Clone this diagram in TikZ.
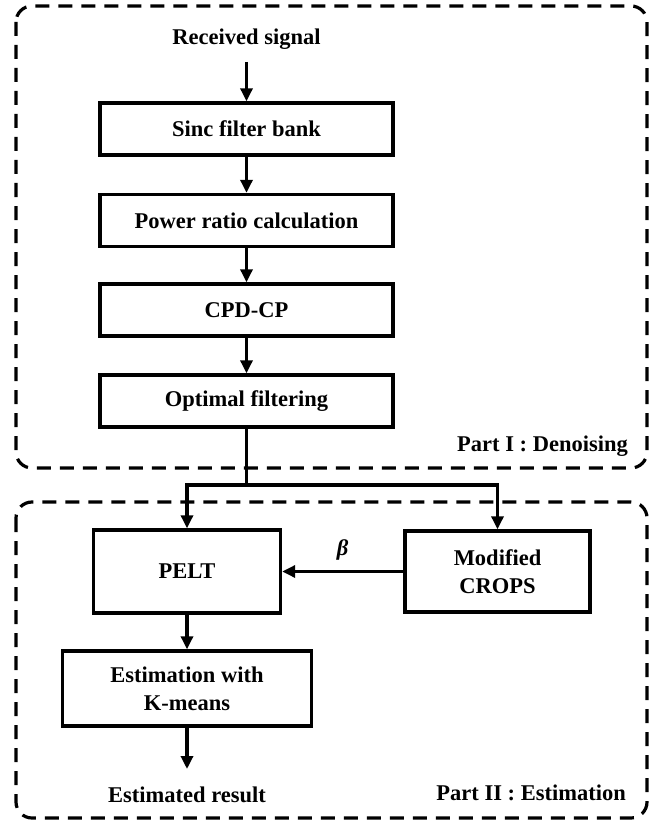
\documentclass[tikz,border=0pt]{standalone}
\usepackage{fontspec}
\setmainfont{Liberation Serif}
\usetikzlibrary{arrows.meta}
\begin{document}
\begin{tikzpicture}[x=1pt,y=-1pt,
  blk/.style={draw, line width=3.4pt, inner sep=0pt, align=center,
    font=\fontsize{22.5}{28}\selectfont\bfseries},
  lbl/.style={font=\fontsize{22.5}{28}\selectfont\bfseries, inner sep=0pt},
  arr/.style={line width=3.2pt, -{Triangle[length=13pt,width=12pt]}},
  ln/.style={line width=3.2pt},
  part/.style={draw, line width=3.2pt, dash pattern=on 14pt off 9pt, rounded corners=16pt}]
\useasboundingbox (0,0) rectangle (657,821);
% dashed group boxes
\draw[part] (16,6) rectangle (647,468);
\draw[part] (16,502) rectangle (647,818);
% Part I
\node[lbl] (rx) at (246.5,39) {Received signal};
\coordinate (rxo) at (246.5,62);
\node[blk, minimum width=293pt, minimum height=52pt] (sinc) at (246.5,129) {Sinc filter bank};
\node[blk, minimum width=293pt, minimum height=52pt] (pow) at (246.5,220.5) {Power ratio calculation};
\node[blk, minimum width=293pt, minimum height=52pt] (cpd) at (246.5,310) {CPD-CP};
\node[blk, minimum width=293pt, minimum height=52pt] (opt) at (246.5,401) {Optimal filtering};
\draw[arr] (rxo) -- (sinc.north);
\draw[arr] (sinc.south) -- (pow.north);
\draw[arr] (pow.south) -- (cpd.north);
\draw[arr] (cpd.south) -- (opt.north);
\node[lbl, anchor=east] (p1) at (628,446) {Part I : Denoising};
% Part II
\node[blk, minimum width=187pt, minimum height=83pt] (pelt) at (187,571.5) {PELT};
\node[blk, minimum width=185pt, minimum height=81pt] (crops) at (497.5,571.5) {Modified\\CROPS};
\node[blk, minimum width=249pt, minimum height=75pt] (est) at (187,688.5) {Estimation with\\K-means};
\coordinate (br) at (246.5,485);
\draw[ln] (opt.south) -- (br);
\draw[arr] (br) -| (pelt.north);
\draw[arr] (br) -| (crops.north);
\draw[arr] (crops.west) -- (pelt.east)
  node[lbl, pos=0.5, yshift=22pt] (beta) {\itshape β};
\draw[arr] (pelt.south) -- (est.north);
\coordinate (reso) at (187,769);
\draw[arr] (est.south) -- (reso);
\node[lbl] (res) at (187,795) {Estimated result};
\node[lbl, anchor=east] (p2) at (626,793) {Part II : Estimation};
\end{tikzpicture}
\end{document}
